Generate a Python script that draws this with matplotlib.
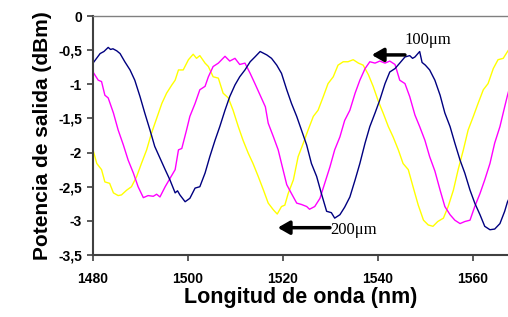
import matplotlib.pyplot as plt
from matplotlib.ticker import FuncFormatter

# wavelength (nm) / output power (dBm)
wl_blue = [1480.0, 1481.5, 1482.3, 1483.2, 1483.7, 1484.2, 1485.0, 1485.7, 1486.7, 1487.8,
           1488.8, 1489.9, 1490.9, 1492.0, 1493.0, 1494.1, 1495.2, 1496.2, 1497.3, 1497.8,
           1498.3, 1499.4, 1500.4, 1501.5, 1502.5, 1503.6, 1504.6, 1505.7, 1506.7, 1507.8,
           1508.8, 1509.9, 1510.9, 1512.0, 1513.1, 1514.1, 1515.2, 1516.6, 1517.6, 1518.7,
           1519.7, 1520.8, 1521.8, 1522.9, 1523.9, 1525.0, 1526.0, 1527.1, 1528.1, 1529.2,
           1530.2, 1530.9, 1532.0, 1533.0, 1534.1, 1535.2, 1536.2, 1537.3, 1538.3, 1539.4,
           1540.4, 1541.5, 1542.5, 1543.6, 1544.6, 1545.7, 1546.7, 1547.3, 1547.8, 1548.8,
           1549.3, 1550.0, 1550.9, 1552.0, 1553.1, 1554.1, 1555.2, 1556.2, 1557.3, 1558.3,
           1559.4, 1560.4, 1561.5, 1562.5, 1563.6, 1564.6, 1565.7, 1566.7, 1567.3, 1568.0]
p_blue = [-0.69, -0.55, -0.52, -0.46, -0.49, -0.48, -0.51, -0.55, -0.67, -0.79,
          -0.94, -1.18, -1.42, -1.67, -1.91, -2.08, -2.25, -2.40, -2.59, -2.56,
          -2.62, -2.72, -2.67, -2.52, -2.50, -2.30, -2.06, -1.82, -1.62, -1.38,
          -1.18, -1.01, -0.89, -0.79, -0.67, -0.60, -0.52, -0.57, -0.62, -0.72,
          -0.84, -1.08, -1.28, -1.47, -1.67, -1.89, -2.16, -2.35, -2.60, -2.86,
          -2.88, -2.96, -2.91, -2.80, -2.65, -2.40, -2.16, -1.86, -1.62, -1.42,
          -1.23, -0.99, -0.82, -0.77, -0.69, -0.60, -0.58, -0.62, -0.60, -0.52,
          -0.68, -0.72, -0.79, -0.94, -1.16, -1.42, -1.62, -1.86, -2.11, -2.30,
          -2.55, -2.74, -2.91, -3.08, -3.13, -3.12, -3.04, -2.86, -2.72, -2.62]

wl_mag = [1480.0, 1481.1, 1481.8, 1482.5, 1483.2, 1484.3, 1485.3, 1486.4, 1487.4, 1488.5,
          1489.5, 1490.6, 1491.6, 1492.7, 1493.4, 1494.1, 1495.2, 1496.2, 1497.3, 1498.0,
          1498.7, 1499.7, 1500.4, 1501.5, 1502.5, 1503.6, 1504.3, 1505.3, 1506.4, 1507.8,
          1508.8, 1509.9, 1510.9, 1512.0, 1513.1, 1514.1, 1515.2, 1516.3, 1516.9, 1518.0,
          1519.0, 1519.7, 1520.8, 1521.8, 1522.9, 1523.9, 1525.0, 1525.6, 1526.7, 1527.8,
          1528.8, 1529.9, 1530.9, 1532.0, 1533.0, 1534.1, 1535.2, 1536.2, 1537.3, 1538.3,
          1539.4, 1540.4, 1541.5, 1542.5, 1543.6, 1544.6, 1545.7, 1546.7, 1547.8, 1548.8,
          1549.9, 1550.9, 1552.0, 1553.1, 1554.1, 1555.2, 1556.2, 1557.3, 1558.3, 1559.4,
          1560.4, 1561.5, 1562.5, 1563.6, 1564.6, 1565.7, 1566.7, 1567.3, 1568.0]
p_mag = [-0.82, -0.94, -0.96, -1.16, -1.20, -1.42, -1.67, -1.89, -2.11, -2.30,
         -2.50, -2.66, -2.63, -2.64, -2.61, -2.65, -2.50, -2.38, -2.25, -1.96,
         -1.94, -1.67, -1.47, -1.28, -1.08, -1.03, -0.89, -0.74, -0.69, -0.59,
         -0.66, -0.62, -0.71, -0.69, -0.84, -0.99, -1.16, -1.33, -1.57, -1.77,
         -1.96, -2.16, -2.47, -2.60, -2.74, -2.76, -2.79, -2.83, -2.79, -2.67,
         -2.45, -2.21, -1.96, -1.77, -1.53, -1.38, -1.13, -0.94, -0.77, -0.67,
         -0.69, -0.66, -0.69, -0.66, -0.71, -0.94, -0.99, -1.18, -1.45, -1.62,
         -1.82, -2.06, -2.27, -2.55, -2.79, -2.91, -2.99, -3.04, -3.01, -2.99,
         -2.79, -2.60, -2.40, -2.16, -1.86, -1.62, -1.33, -1.16, -0.98]

wl_yel = [1480.0, 1480.8, 1481.8, 1482.5, 1483.5, 1484.3, 1485.3, 1486.0, 1487.1, 1488.1,
          1489.2, 1490.2, 1491.3, 1492.3, 1493.4, 1494.5, 1495.5, 1496.6, 1497.3, 1498.0,
          1499.0, 1500.1, 1501.1, 1501.8, 1502.5, 1503.6, 1504.3, 1505.3, 1506.4, 1507.4,
          1508.5, 1509.5, 1510.6, 1511.6, 1512.7, 1513.7, 1514.8, 1515.9, 1516.9, 1518.0,
          1518.8, 1519.7, 1520.4, 1521.1, 1522.2, 1523.2, 1524.3, 1525.3, 1526.4, 1527.4,
          1528.5, 1529.5, 1530.6, 1531.6, 1532.7, 1533.7, 1534.8, 1535.9, 1536.9, 1538.0,
          1539.0, 1540.1, 1541.1, 1542.2, 1543.2, 1544.3, 1545.3, 1546.4, 1547.4, 1548.5,
          1549.6, 1550.6, 1551.6, 1552.6, 1553.8, 1554.8, 1555.9, 1556.9, 1558.0, 1559.0,
          1560.1, 1561.1, 1562.2, 1563.2, 1564.3, 1565.3, 1566.4, 1567.3, 1568.0]
p_yel = [-1.96, -2.16, -2.25, -2.43, -2.45, -2.59, -2.63, -2.62, -2.55, -2.50,
         -2.35, -2.16, -1.96, -1.72, -1.50, -1.28, -1.13, -1.01, -0.94, -0.79,
         -0.79, -0.64, -0.56, -0.62, -0.58, -0.69, -0.74, -0.89, -0.91, -1.13,
         -1.20, -1.38, -1.62, -1.82, -2.01, -2.16, -2.35, -2.55, -2.74, -2.84,
         -2.90, -2.79, -2.77, -2.60, -2.40, -2.06, -1.86, -1.67, -1.47, -1.38,
         -1.18, -0.99, -0.89, -0.72, -0.67, -0.67, -0.64, -0.69, -0.72, -0.86,
         -1.03, -1.25, -1.42, -1.62, -1.77, -1.96, -2.16, -2.25, -2.50, -2.77,
         -2.99, -3.06, -3.08, -3.01, -2.96, -2.79, -2.55, -2.25, -1.96, -1.67,
         -1.47, -1.28, -1.08, -0.99, -0.77, -0.64, -0.62, -0.52, -0.45]

x_ticks = [1480, 1500, 1520, 1540, 1560]
y_ticks = [0, -0.5, -1, -1.5, -2, -2.5, -3, -3.5]

fig = plt.figure(figsize=(5.08, 3.17), dpi=100)
ax = fig.add_axes([93 / 508, 1 - 255 / 317, 1 - 93 / 508, (255 - 16) / 317])

ax.plot(wl_yel, p_yel, color='#ffff00', lw=1.0)
ax.plot(wl_mag, p_mag, color='#ff00ff', lw=1.0)
ax.plot(wl_blue, p_blue, color='#000080', lw=1.0)

ax.set_xlim(1480, 1567.4)
ax.set_ylim(-3.5, 0)
ax.set_xticks(x_ticks)
ax.set_yticks(y_ticks)
ax.yaxis.set_major_formatter(FuncFormatter(lambda v, p: ('%g' % v).replace('.', ',')))

for s in ['left', 'bottom']:
    ax.spines[s].set_color('#404040')
    ax.spines[s].set_linewidth(1.5)
ax.spines['top'].set_color('#808080')
ax.spines['top'].set_linewidth(1.0)
ax.spines['right'].set_visible(False)

ax.tick_params(axis='both', direction='out', length=4, width=1.2, color='#404040',
               labelsize=10)
ax.tick_params(axis='y', pad=4)
ax.tick_params(axis='x', pad=8)
for t in ax.get_xticklabels() + ax.get_yticklabels():
    t.set_fontweight('bold')
    t.set_family('Liberation Sans')

ax.set_xlabel('Longitud de onda (nm)', family='Liberation Sans', fontweight='bold',
              fontsize=15.5, labelpad=1)
ax.set_ylabel('Potencia de salida (dBm)', family='Liberation Sans', fontweight='bold',
              fontsize=15, labelpad=4)

# shift annotations
ax.annotate('', xy=(1538.7, -0.57), xytext=(1545.7, -0.57),
            arrowprops=dict(arrowstyle='-|>,head_length=0.7,head_width=0.4',
                            color='black', lw=2.5, shrinkA=0, shrinkB=0))
ax.text(1545.6, -0.35, '100μm', family='Liberation Serif', fontsize=12,
        ha='left', va='center')
ax.annotate('', xy=(1518.9, -3.1), xytext=(1529.9, -3.1),
            arrowprops=dict(arrowstyle='-|>,head_length=0.7,head_width=0.4',
                            color='black', lw=2.5, shrinkA=0, shrinkB=0))
ax.text(1529.9, -3.13, '200μm', family='Liberation Serif', fontsize=12,
        ha='left', va='center')

fig.savefig('out.png', dpi=100)
